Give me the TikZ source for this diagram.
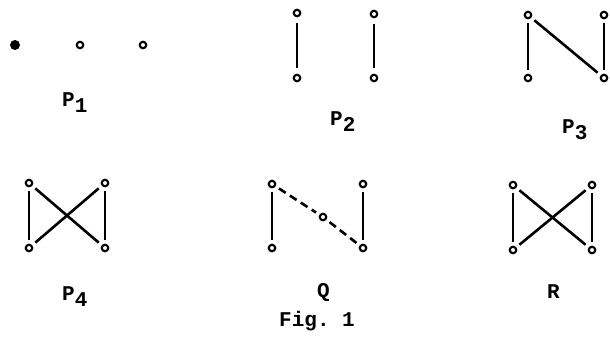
\documentclass[tikz,border=0pt]{standalone}
\usepackage{fontspec}
\setmonofont{Liberation Mono}
\usetikzlibrary{positioning}
\tikzset{
  vtx/.style={circle, draw=black, line width=2.1pt, fill=white, inner sep=0pt,
    minimum size=6.5pt},
  dotv/.style={circle, fill=black, inner sep=0pt, minimum size=10pt},
  edg/.style={line width=2.6pt, draw=black, shorten <=4pt, shorten >=4pt},
  dedg/.style={edg, dash pattern=on 8pt off 5pt},
  lab/.style={anchor=base west, inner sep=0pt,
    font=\fontsize{21}{24}\selectfont\ttfamily\bfseries},
}
\newcommand{\lowsub}[1]{\raisebox{-6pt}{#1}}

\begin{document}
\begin{tikzpicture}[x=1pt, y=-1pt]
  \useasboundingbox (0,0) rectangle (610,338);
  % P1
  \node[dotv] (a1) at (15,45) {};
  \node[vtx] (a2) at (80,45) {};
  \node[vtx] (a3) at (143,45) {};
  \node[lab] (la) at (62,106) {P\lowsub{1}};
  % P2
  \node[vtx] (b1) at (297,13) {};
  \node[vtx] (b2) at (297,78) {};
  \node[vtx] (b3) at (374,14) {};
  \node[vtx] (b4) at (374,78) {};
  \draw[edg, shorten <=6pt, shorten >=6pt] (b1) -- (b2);
  \draw[edg, shorten <=6pt, shorten >=6pt] (b3) -- (b4);
  \node[lab] (lb) at (330,125) {P\lowsub{2}};
  % P3
  \node[vtx] (c1) at (528,15) {};
  \node[vtx] (c2) at (528,78) {};
  \node[vtx] (c3) at (604,15) {};
  \node[vtx] (c4) at (604,78) {};
  \draw[edg] (c1) -- (c2);
  \draw[edg] (c3) -- (c4);
  \draw[edg] (c1) -- (c4);
  \node[lab] (lc) at (562,133) {P\lowsub{3}};
  % P4
  \node[vtx] (d1) at (29,183) {};
  \node[vtx] (d2) at (29,248) {};
  \node[vtx] (d3) at (105,183) {};
  \node[vtx] (d4) at (105,248) {};
  \draw[edg] (d1) -- (d2);
  \draw[edg] (d3) -- (d4);
  \draw[edg] (d1) -- (d4);
  \draw[edg] (d3) -- (d2);
  \node[lab] (ld) at (62,300) {P\lowsub{4}};
  % Q
  \node[vtx] (q1) at (272,184) {};
  \node[vtx] (q2) at (272,248) {};
  \node[vtx] (q3) at (363,184) {};
  \node[vtx] (q4) at (363,248) {};
  \node[vtx] (q5) at (323,217) {};
  \draw[edg] (q1) -- (q2);
  \draw[edg] (q3) -- (q4);
  \draw[dedg] (q1) -- (q5);
  \draw[dedg] (q5) -- (q4);
  \node[lab] (lq) at (317,297) {Q};
  % R
  \node[vtx] (r1) at (513,185) {};
  \node[vtx] (r2) at (513,250) {};
  \node[vtx] (r3) at (592,185) {};
  \node[vtx] (r4) at (592,250) {};
  \draw[edg] (r1) -- (r2);
  \draw[edg] (r3) -- (r4);
  \draw[edg] (r1) -- (r4);
  \draw[edg] (r3) -- (r2);
  \node[lab] (lr) at (547,298) {R};
  \node[lab] (fig) at (279,326) {Fig. 1};
\end{tikzpicture}
\end{document}
